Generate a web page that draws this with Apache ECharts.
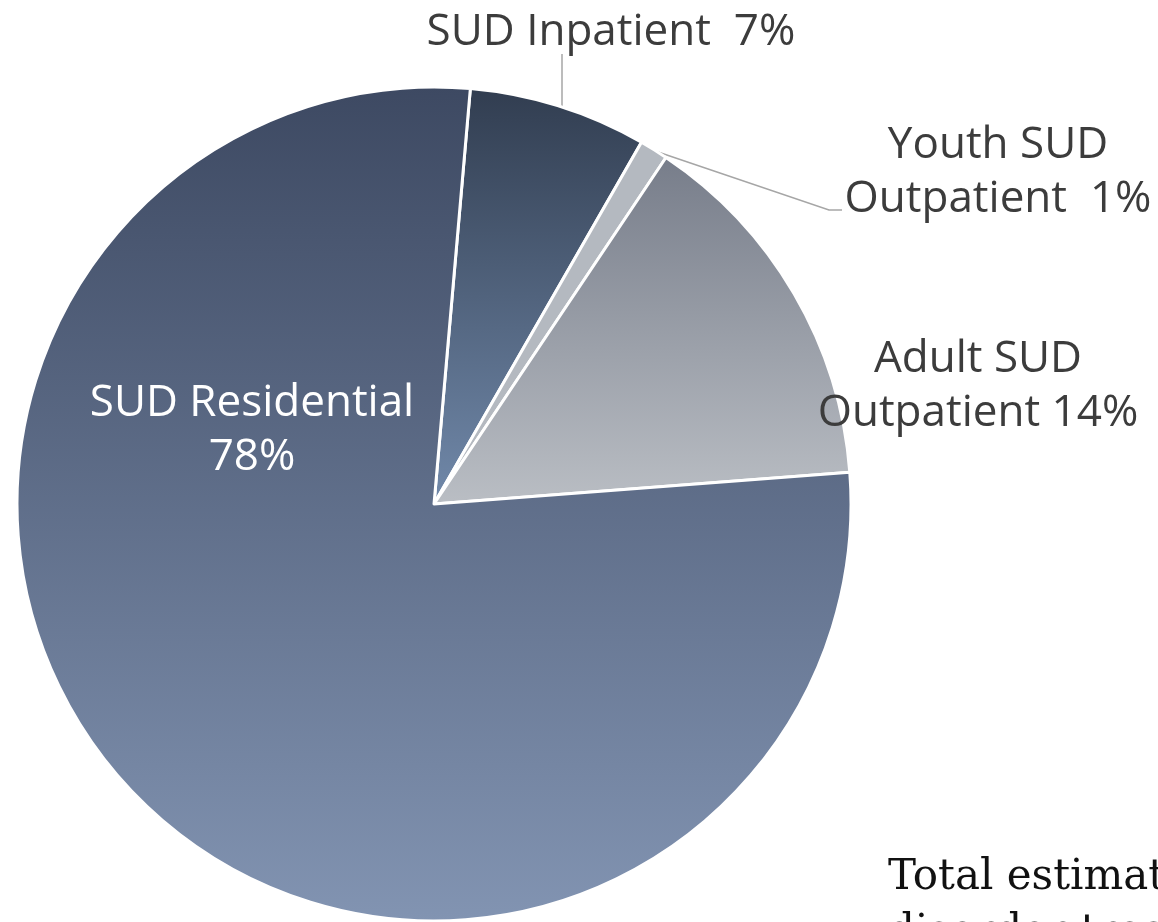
<!DOCTYPE html>
<html>
<head>
<meta charset="utf-8">
<script src="https://cdn.jsdelivr.net/npm/echarts@6/dist/echarts.min.js"></script>
<style>
html,body{margin:0;padding:0;background:#fff;}
#chart{width:1158px;height:922px;}
</style>
</head>
<body>
<div id="chart"></div>
<script>
// Data (clockwise order starting just right of 12 o'clock)
var categories = ['SUD Inpatient', 'Youth SUD Outpatient', 'Adult SUD Outpatient', 'SUD Residential'];
var values = [6.9, 1.1, 14.4, 77.6];
var percentLabels = ['7%', '1%', '14%', '78%'];
var labelTexts = ['SUD Inpatient  7%', 'Youth SUD\nOutpatient  1%', 'Adult SUD\nOutpatient 14%', 'SUD Residential\n78%'];
var noteText = 'Total estimated\ndisorder treatment';

function grad(top, bottom) {
  return { type: 'linear', x: 0, y: 0, x2: 0, y2: 1,
    colorStops: [{ offset: 0, color: top }, { offset: 1, color: bottom }] };
}
var sliceColors = [
  grad('#313d50', '#7189aa'),
  grad('#b4b9c0', '#b4b9c0'),
  grad('#777d8a', '#babec4'),
  grad('#3d4962', '#8294b2')
];

var chart = echarts.init(document.getElementById('chart'), null, { renderer: 'canvas' });

var data = categories.map(function (c, i) {
  var d = { name: c, value: values[i], itemStyle: { color: sliceColors[i] } };
  if (i === 3) {
    d.label = { color: '#ffffff' };
    d.labelLine = { show: false };
  }
  return d;
});

var labelPos = [
  { x: 611, y: 32, line: [[562, 106], [562, 54], [562, 54]] },
  { x: 998, y: 172, line: [[655, 151], [829, 210], [842, 210]] },
  { x: 978, y: 386, line: null },
  { x: 252, y: 430, line: null }
];

chart.setOption({
  animation: false,
  backgroundColor: '#ffffff',
  series: [{
    type: 'pie',
    center: [434, 504],
    radius: [0, 417],
    startAngle: 85,
    clockwise: true,
    avoidLabelOverlap: false,
    emphasis: { disabled: true },
    itemStyle: { borderColor: '#ffffff', borderWidth: 3 },
    label: {
      show: true,
      position: 'outside',
      formatter: function (p) { return labelTexts[p.dataIndex]; },
      fontFamily: 'Open Sans',
      fontSize: 44,
      lineHeight: 54,
      color: '#3c3c3c',
      align: 'center'
    },
    labelLine: {
      show: true,
      lineStyle: { color: '#a6a6a6', width: 1.5 }
    },
    labelLayout: function (params) {
      var lp = labelPos[params.dataIndex];
      var r = { x: lp.x, y: lp.y, align: 'center', verticalAlign: 'middle' };
      if (lp.line) r.labelLinePoints = lp.line;
      return r;
    },
    data: data
  }],
  graphic: [{
    type: 'text',
    left: 888,
    top: 851,
    style: {
      text: noteText,
      font: '42px "DejaVu Serif"',
      lineHeight: 55,
      fill: '#111111'
    }
  }]
});
</script>
</body>
</html>
